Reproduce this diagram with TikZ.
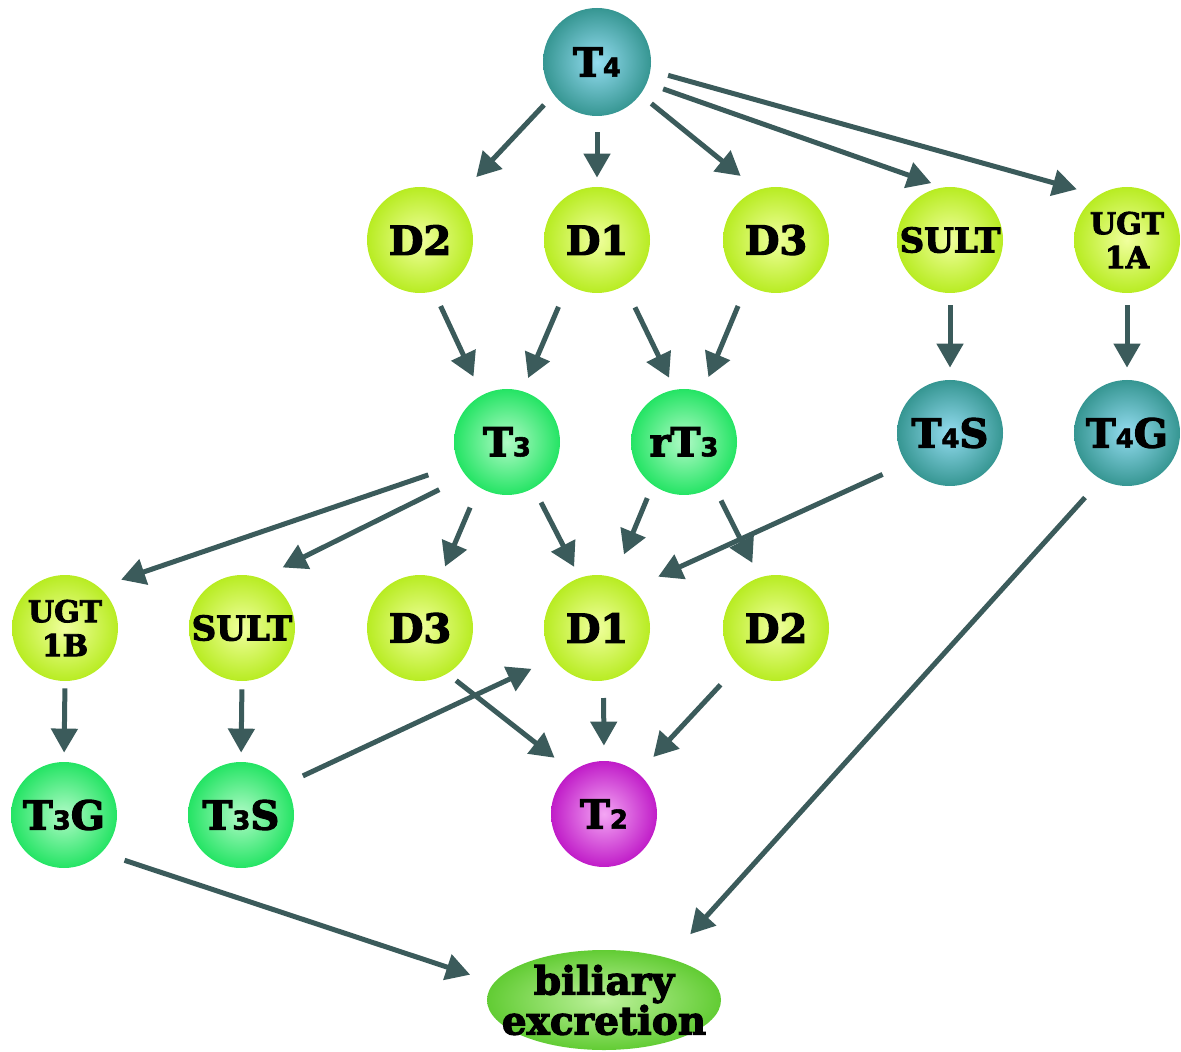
\documentclass[tikz,border=0pt]{standalone}
\usepackage{fontspec}
\usetikzlibrary{arrows.meta,shapes.geometric}
\newfontfamily\slab{DejaVu Serif}[BoldFeatures={FakeBold=3}]
\newfontfamily\digs{DejaVu Sans}[BoldFeatures={FakeBold=2}]
\newcommand\sbd[1]{{\digs\bfseries\fontsize{13}{13}\selectfont #1}}

\definecolor{limein}{HTML}{F0FF9E}
\definecolor{limeout}{HTML}{B8EC22}
\definecolor{grnin}{HTML}{B0FAC6}
\definecolor{grnout}{HTML}{24E464}
\definecolor{tealin}{HTML}{94DCF0}
\definecolor{tealout}{HTML}{369692}
\definecolor{magin}{HTML}{F4A6F4}
\definecolor{magout}{HTML}{C01CC8}
\definecolor{bilin}{HTML}{BEF29C}
\definecolor{bilout}{HTML}{62CC34}
\definecolor{arrc}{HTML}{3B5B5B}

\tikzset{
  ball/.style={circle, minimum size=53pt, inner sep=0pt, text=black,
    font=\slab\bfseries\fontsize{20}{21}\selectfont},
  lime/.style={ball, inner color=limein, outer color=limeout},
  grn/.style={ball, inner color=grnin, outer color=grnout},
  tealb/.style={ball, inner color=tealin, outer color=tealout},
  magb/.style={ball, inner color=magin, outer color=magout},
  small/.style={align=center, font=\slab\bfseries\fontsize{15}{17}\selectfont},
  sult/.style={font=\slab\bfseries\fontsize{17}{18}\selectfont},
  bile/.style={ellipse, minimum width=117pt, minimum height=50pt, inner sep=0pt,
    inner color=bilin, outer color=bilout},
  biletext/.style={align=center, text=black,
    font=\slab\bfseries\fontsize{19.5}{20}\selectfont},
  arr/.style={draw=arrc, line width=2.5pt, -{Triangle[length=12pt,width=13pt]}},
}

\begin{document}
\begin{tikzpicture}[x=0.5pt, y=-0.5pt]
\useasboundingbox (0,0) rectangle (1181,1052);

% top
\node[tealb, minimum size=54pt] (T4) at (597,62) {T\sbd{4}};

% enzymes acting on T4
\node[lime] (D2a) at (420,240) {D2};
\node[lime] (D1a) at (597,240) {D1};
\node[lime] (D3a) at (776,240) {D3};
\node[lime, sult] (SULTa) at (950,240) {SULT};
\node[lime, small] (UGTa) at (1127,240) {UGT\\1A};

% first products
\node[grn] (T3) at (507,442) {T\sbd{3}};
\node[grn] (rT3) at (684,442) {rT\sbd{3}};
\node[tealb] (T4S) at (950,433) {T\sbd{4}S};
\node[tealb] (T4G) at (1127,433) {T\sbd{4}G};

% enzymes acting on T3 / rT3
\node[lime, small] (UGTb) at (65,628) {UGT\\1B};
\node[lime, sult] (SULTb) at (242,628) {SULT};
\node[lime] (D3b) at (420,628) {D3};
\node[lime] (D1b) at (597,628) {D1};
\node[lime] (D2b) at (776,628) {D2};

% second products
\node[grn] (T3G) at (64,815) {T\sbd{3}G};
\node[grn] (T3S) at (241,815) {T\sbd{3}S};
\node[magb] (T2) at (604,814) {T\sbd{2}};

% excretion
\node[bile] (bil) at (604,1000) {};
\node[biletext] (biltxt) at (bil) {biliary\\excretion};

% T4 branches
\draw[arr, shorten <=7pt, shorten >=15.5pt] (T4.-143) -- (D2a.49);
\draw[arr, shorten <=8pt, shorten >=4.5pt] (T4.-90) -- (D1a.90);
\draw[arr, shorten <=7pt, shorten >=11pt] (T4.-37) -- (D3a.110);
\draw[arr, shorten <=8.5pt, shorten >=6pt] (T4.-23) -- (SULTa.98);
\draw[arr, shorten <=9pt, shorten >=11pt] (T4.-9) -- (UGTa.123);

% deiodination of T4
\draw[arr, shorten <=8pt, shorten >=10pt] (D2a.-75) -- (T3.118);
\draw[arr, shorten <=12pt, shorten >=7pt] (D1a.-123) -- (T3.73);
\draw[arr, shorten <=12pt, shorten >=6.5pt] (D1a.-59) -- (rT3.100);
\draw[arr, shorten <=11.5pt, shorten >=8pt] (D3a.-123) -- (rT3.70);

% conjugation of T4
\draw[arr, shorten <=6pt, shorten >=6pt] (SULTa.-90) -- (T4S.90);
\draw[arr, shorten <=6pt, shorten >=6pt] (UGTa.-90) -- (T4G.90);

% T3 branches
\draw[arr, shorten <=16pt, shorten >=11.5pt] (T3.-155) -- (UGTb.50);
\draw[arr, shorten <=15pt, shorten >=12pt] (T3.-140) -- (SULTb.69);
\draw[arr, shorten <=11pt, shorten >=6.5pt] (T3.-122) -- (D3b.68);
\draw[arr, shorten <=8pt, shorten >=6pt] (T3.-60) -- (D1b.109);

% rT3 and T4S branches
\draw[arr, shorten <=7pt, shorten >=12.5pt] (rT3.-126) -- (D1b.71);
\draw[arr, shorten <=8pt, shorten >=8pt] (rT3.-56) -- (D2b.108);
\draw[arr, shorten <=13pt, shorten >=14pt] (T4S.-145) -- (D1b.48);

% conjugation of T3
\draw[arr, shorten <=3.5pt, shorten >=4.5pt] (UGTb.-90) -- (T3G.90);
\draw[arr, shorten <=4pt, shorten >=4.5pt] (SULTb.-90) -- (T3S.90);

% formation of T2
\draw[arr, shorten <=5.5pt, shorten >=11pt] (D3b.-59) -- (T2.127);
\draw[arr, shorten <=8.5pt, shorten >=7.5pt] (D1b.-83) -- (T2.90);
\draw[arr, shorten <=13pt, shorten >=11pt] (D2b.-135) -- (T2.50);
\draw[arr, shorten <=10pt, shorten >=12pt] (T3S.35) -- (D1b.-145);

% to bile
\draw[arr, shorten <=12pt, shorten >=12.5pt] (T3G.-45) -- (bil.171);
\draw[arr, shorten <=12pt, shorten >=16pt] (T4G.-119) -- (bil.33);
\end{tikzpicture}
\end{document}
